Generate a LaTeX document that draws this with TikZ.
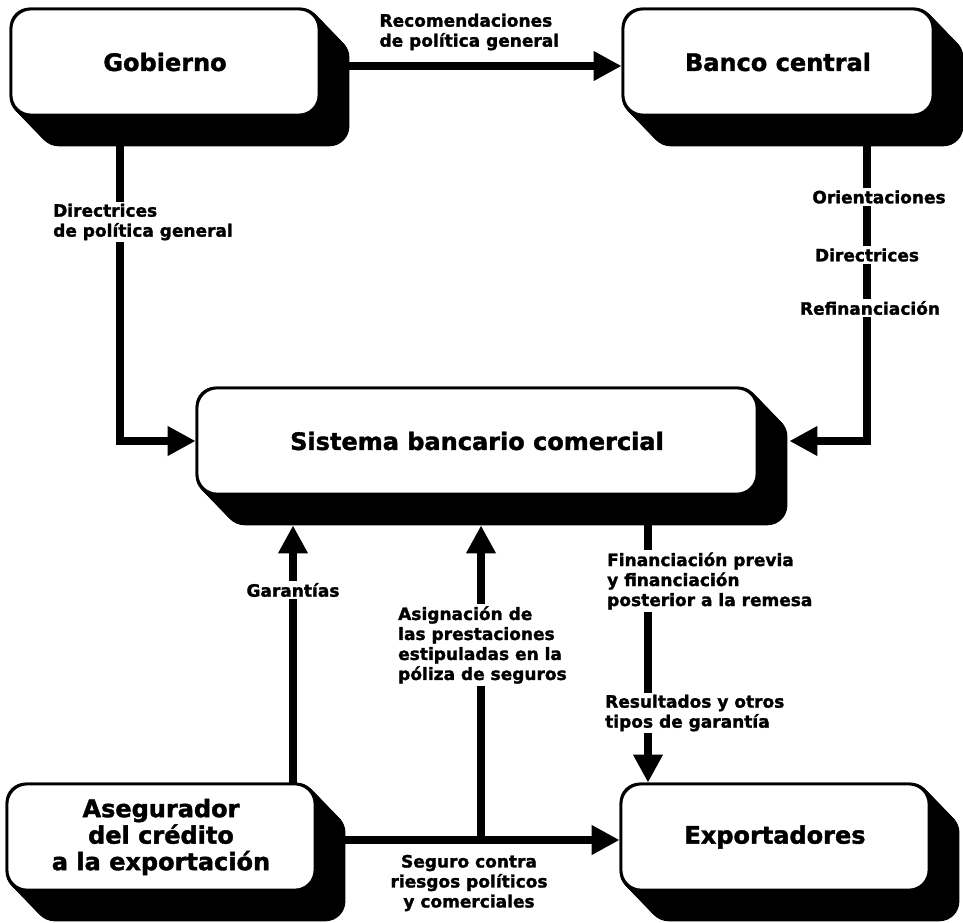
\documentclass[tikz,border=0pt]{standalone}
\usepackage{fontspec}
\setmainfont{DejaVu Sans}[BoldFeatures={FakeBold=1.6}]
\usepackage{tikz}
\usetikzlibrary{positioning,arrows.meta,calc,backgrounds}

\begin{document}
\begin{tikzpicture}[x=1pt, y=-1pt,
    font=\fontsize{17}{20}\selectfont\bfseries,
    caja/.style={draw, fill=white, line width=2.8pt, rounded corners=20pt,
        minimum width=308pt, minimum height=106pt, inner sep=0pt, align=center,
        font=\fontsize{24}{26.5}\selectfont\bfseries},
    flecha/.style={line width=8pt, -{Triangle[length=28pt, width=28pt]}},
    etiqueta/.style={fill=white, inner sep=2pt, align=left}]
    \useasboundingbox (0,0) rectangle (963,922);

    % Cajas
    \node[caja] (gob) at (165,62) {Gobierno};
    \node[caja, minimum width=310pt] (banco) at (778,62) {Banco central};
    \node[caja, minimum width=560pt] (sis) at (477,441) {Sistema bancario comercial};
    \node[caja] (aseg) at (161,837) {Asegurador\\del crédito\\a la exportación};
    \node[caja] (expo) at (775,837) {Exportadores};

    % Sombras (relieve negro)
    \begin{scope}[on background layer]
        \fill[white] (0,0) rectangle (963,922);
        \foreach \caja in {gob,banco,sis,aseg,expo}
            \foreach \k in {0,1,...,29}
                \fill[rounded corners=20pt] ([shift={(\k,1.03*\k)}]\caja.north west)
                    rectangle ([shift={(\k,1.03*\k)}]\caja.south east);
    \end{scope}

    % Conectores
    \coordinate (sisBase) at ([yshift=-30pt]sis.south);
    \draw[flecha] ([yshift=-4pt]gob.east) -- ([yshift=-4pt]banco.west);
    \draw[flecha] ([xshift=-45pt]gob.south) |- (sis.west);
    \draw[flecha] ([xshift=89pt]banco.south) |- ([xshift=31pt]sis.east);

    \coordinate (garA) at ([xshift=132pt]aseg.north);
    \draw[flecha] (garA) -- (garA |- sisBase);
    \draw[flecha] ([yshift=-3pt]aseg.east) -- ([yshift=-3pt]expo.west);
    \coordinate (cruce) at ($(aseg.east -| sis.south)+(4,3)$);
    \draw[flecha] (cruce) -- (cruce |- sisBase);
    \coordinate (finA) at ([xshift=-127pt]expo.north);
    \draw[flecha] (finA |- sisBase) -- (finA);

    % Etiquetas
    \node[align=left, anchor=west] (recom) at (376,32) {Recomendaciones\\de política general};
    \node[etiqueta, anchor=west] (dirGob) at (51,222) {Directrices\\de política general};
    \node[etiqueta] (orient) at (879,197) {Orientaciones};
    \node[etiqueta] (direct) at (867,255) {Directrices};
    \node[etiqueta] (refin) at (870,308) {Refinanciación};
    \node[etiqueta] (garan) at (293,590) {Garantías};
    \node[etiqueta, anchor=west] (asign) at (396,645) {Asignación de\\las prestaciones\\estipuladas en la\\póliza de seguros};
    \node[etiqueta, anchor=west] (financ) at (605,581) {Financiación previa\\y financiación\\posterior a la remesa};
    \node[etiqueta, anchor=west] (result) at (603,713) {Resultados y otros\\tipos de garantía};
    \node[align=center] (seguro) at (469,883) {Seguro contra\\riesgos políticos\\y comerciales};
\end{tikzpicture}
\end{document}
